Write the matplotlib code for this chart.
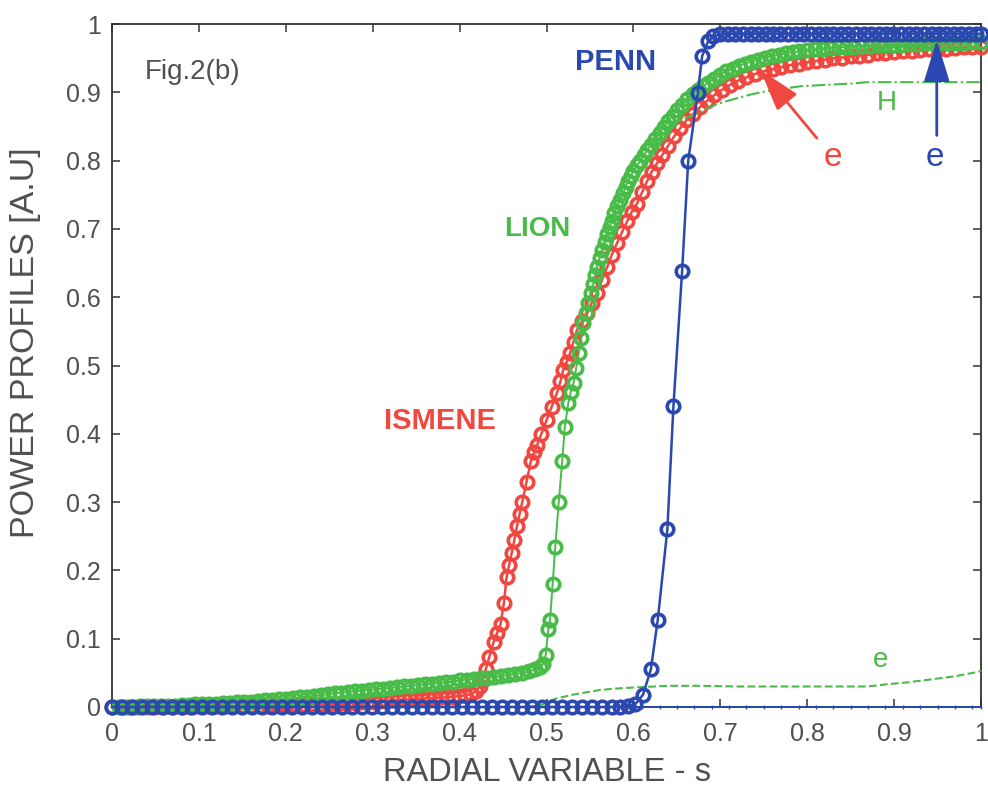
import matplotlib
matplotlib.use('Agg')
import matplotlib.pyplot as plt

plt.rcParams['font.family'] = ['Liberation Sans', 'DejaVu Sans']

# ---- data ----
# PENN (blue, circles)
penn_x = [0.000, 0.012, 0.023, 0.035, 0.046, 0.058, 0.069, 0.081, 0.092, 0.104,
          0.115, 0.127, 0.138, 0.150, 0.161, 0.173, 0.184, 0.196, 0.207, 0.219,
          0.230, 0.242, 0.253, 0.265, 0.276, 0.288, 0.299, 0.311, 0.322, 0.334,
          0.345, 0.357, 0.368, 0.380, 0.391, 0.403, 0.414, 0.426, 0.437, 0.449,
          0.460, 0.472, 0.483, 0.495, 0.506, 0.518, 0.529, 0.541, 0.552, 0.564,
          0.575, 0.585, 0.594,
          0.602, 0.611, 0.620, 0.628, 0.639, 0.646, 0.656, 0.663, 0.674, 0.679,
          0.686, 0.692, 0.700,
          0.709, 0.717, 0.726, 0.735, 0.743, 0.752, 0.761, 0.769, 0.778, 0.787,
          0.795, 0.804, 0.813, 0.821, 0.830, 0.839, 0.847, 0.856, 0.865, 0.873,
          0.882, 0.891, 0.899, 0.908, 0.917, 0.925, 0.934, 0.943, 0.951, 0.960,
          0.969, 0.977, 0.986, 0.994, 1.000]
penn_y = [0.0, 0.0, 0.0, 0.0, 0.0, 0.0, 0.0, 0.0, 0.0, 0.0,
          0.0, 0.0, 0.0, 0.0, 0.0, 0.0, 0.0, 0.0, 0.0, 0.0,
          0.0, 0.0, 0.0, 0.0, 0.0, 0.0, 0.0, 0.0, 0.0, 0.0,
          0.0, 0.0, 0.0, 0.0, 0.0, 0.0, 0.0, 0.0, 0.0, 0.0,
          0.0, 0.0, 0.0, 0.0, 0.0, 0.0, 0.0, 0.0, 0.0, 0.0,
          0.0, 0.0, 0.001,
          0.004, 0.018, 0.055, 0.128, 0.260, 0.441, 0.639, 0.800, 0.899, 0.953,
          0.975, 0.982, 0.985,
          0.986, 0.986, 0.986, 0.986, 0.986, 0.986, 0.986, 0.986, 0.986, 0.986,
          0.986, 0.986, 0.986, 0.986, 0.986, 0.986, 0.986, 0.986, 0.986, 0.986,
          0.986, 0.986, 0.986, 0.986, 0.986, 0.986, 0.986, 0.986, 0.986, 0.986,
          0.986, 0.986, 0.986, 0.986, 0.986]

# PENN electron part (blue thin line at the bottom)
penn_e_x = [0.59, 0.61, 0.63, 0.65, 0.67, 0.69, 0.71, 0.73, 0.75, 0.77, 0.79,
            0.81, 0.83, 0.85, 0.87, 0.89, 0.91, 0.93, 0.95, 0.97, 0.99, 1.00]
penn_e_y = [0.0, 0.0, 0.0, 0.0, 0.0, 0.0, 0.0, 0.0, 0.0, 0.0, 0.0,
            0.0, 0.0, 0.0, 0.0, 0.0, 0.0, 0.0, 0.0, 0.0, 0.0, 0.0]

# ISMENE (red, circles)
ismene_x = [0.000, 0.010, 0.020, 0.030, 0.040, 0.050, 0.060, 0.070, 0.080, 0.090,
            0.100, 0.110, 0.120, 0.130, 0.140, 0.150, 0.160, 0.170, 0.180, 0.190,
            0.200, 0.210, 0.220, 0.230, 0.240, 0.250, 0.260, 0.270, 0.280,
            0.287, 0.294, 0.301, 0.308, 0.315, 0.322, 0.329, 0.336, 0.343, 0.350,
            0.357, 0.364, 0.371, 0.378, 0.385, 0.392, 0.399, 0.406, 0.413, 0.419,
            0.423,
            0.426, 0.430, 0.434, 0.439, 0.443, 0.447, 0.451, 0.454, 0.457, 0.460,
            0.463, 0.466, 0.469, 0.472, 0.477, 0.482, 0.486, 0.489, 0.494, 0.500,
            0.506, 0.512, 0.516, 0.519, 0.523, 0.527, 0.531, 0.535, 0.541, 0.547,
            0.552, 0.558, 0.564, 0.570, 0.575, 0.581, 0.587, 0.593, 0.598, 0.604,
            0.610, 0.616, 0.621, 0.627, 0.633, 0.640, 0.647, 0.654, 0.661, 0.669,
            0.677, 0.685, 0.693, 0.702, 0.711, 0.720, 0.730, 0.740, 0.750, 0.760,
            0.770, 0.780, 0.790, 0.800, 0.810, 0.820, 0.830, 0.840, 0.850, 0.860,
            0.870, 0.880, 0.890, 0.900, 0.910, 0.920, 0.930, 0.940, 0.950, 0.960,
            0.970, 0.980, 0.990, 1.000]
ismene_y = [0.000, 0.000, 0.000, 0.000, 0.000, 0.000, 0.000, 0.000, 0.000, 0.000,
            0.001, 0.001, 0.001, 0.001, 0.001, 0.002, 0.002, 0.002, 0.002, 0.003,
            0.003, 0.003, 0.003, 0.004, 0.004, 0.004, 0.005, 0.005, 0.006,
            0.007, 0.007, 0.008, 0.009, 0.009, 0.010, 0.010, 0.011, 0.011, 0.012,
            0.012, 0.013, 0.013, 0.014, 0.014, 0.015, 0.016, 0.017, 0.019, 0.023,
            0.030,
            0.040, 0.055, 0.073, 0.095, 0.108, 0.121, 0.153, 0.190, 0.208, 0.226,
            0.245, 0.265, 0.283, 0.300, 0.330, 0.360, 0.373, 0.383, 0.400, 0.420,
            0.440, 0.460, 0.477, 0.493, 0.505, 0.518, 0.535, 0.552, 0.565, 0.577,
            0.592, 0.606, 0.626, 0.645, 0.662, 0.679, 0.696, 0.712, 0.725, 0.737,
            0.754, 0.771, 0.784, 0.796, 0.808, 0.822, 0.836, 0.848, 0.859, 0.869,
            0.879, 0.888, 0.896, 0.904, 0.911, 0.917, 0.922, 0.927, 0.931, 0.934,
            0.937, 0.940, 0.942, 0.944, 0.946, 0.948, 0.950, 0.951, 0.953, 0.954,
            0.955, 0.957, 0.958, 0.959, 0.960, 0.961, 0.962, 0.963, 0.964, 0.964,
            0.965, 0.966, 0.966, 0.967]

# LION (green, circles)
lion_x = [0.000, 0.008, 0.016, 0.024, 0.032, 0.040, 0.048, 0.056, 0.064, 0.072,
          0.080, 0.088, 0.096, 0.104, 0.112, 0.120, 0.128, 0.136, 0.144, 0.152,
          0.160, 0.168, 0.176, 0.184, 0.192, 0.200, 0.208, 0.216, 0.224, 0.232,
          0.240, 0.248, 0.256, 0.264, 0.272, 0.280, 0.288, 0.296, 0.304, 0.312,
          0.320, 0.328, 0.336, 0.344, 0.352, 0.360, 0.368, 0.376, 0.384, 0.392,
          0.400, 0.408, 0.416, 0.424, 0.432, 0.440, 0.448, 0.456, 0.464, 0.472,
          0.480, 0.487, 0.492, 0.496,
          0.499, 0.502, 0.504, 0.507, 0.510, 0.514, 0.518, 0.521, 0.525, 0.528,
          0.531, 0.534, 0.537, 0.540, 0.542, 0.545, 0.548, 0.551, 0.554, 0.556,
          0.558, 0.561, 0.564, 0.567, 0.570, 0.573, 0.575, 0.578, 0.581, 0.585,
          0.588, 0.591, 0.594, 0.597, 0.600, 0.604, 0.608, 0.612, 0.616, 0.620,
          0.625, 0.630, 0.635, 0.640, 0.645, 0.650, 0.656, 0.662, 0.668, 0.674,
          0.680, 0.686, 0.693, 0.700, 0.707, 0.714, 0.721, 0.728, 0.735, 0.743,
          0.751, 0.759, 0.767, 0.775, 0.783, 0.791, 0.800, 0.809, 0.818, 0.827,
          0.836, 0.845, 0.854, 0.863, 0.872, 0.881, 0.890, 0.899, 0.908, 0.917,
          0.926, 0.935, 0.944, 0.953, 0.962, 0.971, 0.980, 0.990, 1.000]
lion_y = [0.000, 0.000, 0.000, 0.000, 0.001, 0.001, 0.001, 0.002, 0.002, 0.002,
          0.003, 0.003, 0.004, 0.004, 0.005, 0.005, 0.006, 0.006, 0.007, 0.007,
          0.008, 0.009, 0.010, 0.010, 0.011, 0.012, 0.013, 0.014, 0.015, 0.016,
          0.017, 0.019, 0.020, 0.021, 0.022, 0.023, 0.024, 0.025, 0.026, 0.027,
          0.028, 0.029, 0.030, 0.031, 0.032, 0.033, 0.034, 0.035, 0.036, 0.037,
          0.039, 0.040, 0.041, 0.042, 0.043, 0.044, 0.045, 0.047, 0.048, 0.050,
          0.052, 0.055, 0.058, 0.063,
          0.076, 0.114, 0.127, 0.180, 0.234, 0.300, 0.360, 0.410, 0.445, 0.462,
          0.474, 0.496, 0.518, 0.540, 0.562, 0.577, 0.591, 0.606, 0.620, 0.632,
          0.645, 0.657, 0.669, 0.681, 0.693, 0.703, 0.712, 0.723, 0.733, 0.743,
          0.752, 0.762, 0.771, 0.778, 0.785, 0.793, 0.800, 0.808, 0.816, 0.823,
          0.832, 0.840, 0.849, 0.858, 0.866, 0.874, 0.882, 0.890, 0.897, 0.903,
          0.909, 0.914, 0.920, 0.926, 0.931, 0.935, 0.939, 0.942, 0.945, 0.948,
          0.951, 0.953, 0.955, 0.957, 0.959, 0.960, 0.962, 0.963, 0.964, 0.965,
          0.966, 0.967, 0.967, 0.968, 0.968, 0.969, 0.969, 0.970, 0.970, 0.971,
          0.971, 0.972, 0.972, 0.972, 0.973, 0.973, 0.973, 0.974, 0.974]

# LION ion heating H (green dash-dot)
lion_h_x = [0.620, 0.640, 0.660, 0.677, 0.696, 0.715, 0.735, 0.754, 0.775, 0.792,
            0.820, 0.850, 0.869, 0.900, 0.930, 0.960, 1.000]
lion_h_y = [0.820, 0.845, 0.862, 0.872, 0.883, 0.890, 0.897, 0.902, 0.906, 0.909,
            0.911, 0.913, 0.915, 0.915, 0.915, 0.915, 0.915]

# LION electron heating e (green dashed)
lion_e_x = [0.480, 0.496, 0.510, 0.530, 0.562, 0.580, 0.607, 0.640, 0.677, 0.720,
            0.770, 0.820, 0.869, 0.890, 0.915, 0.940, 0.970, 0.995, 1.000]
lion_e_y = [0.000, 0.004, 0.012, 0.018, 0.025, 0.027, 0.029, 0.031, 0.031, 0.030,
            0.030, 0.030, 0.030, 0.033, 0.036, 0.040, 0.045, 0.051, 0.053]

tick_vals = [0, 0.1, 0.2, 0.3, 0.4, 0.5, 0.6, 0.7, 0.8, 0.9, 1]
tick_text = ['0', '0.1', '0.2', '0.3', '0.4', '0.5', '0.6', '0.7', '0.8', '0.9', '1']

red = '#f04840'
green = '#48bb48'
blue = '#2a48b0'
grey = '#505050'

fig = plt.figure(figsize=(9.88, 7.94), dpi=100)
ax = fig.add_axes([0.1134, 0.1096, 0.8796, 0.860])

mk = dict(marker='o', ms=9, mew=2.6, mfc='none', clip_on=False)
ax.plot(ismene_x, ismene_y, '-', color=red, lw=1.8, mec=red, zorder=3, **mk)
ax.plot(lion_x, lion_y, '-', color=green, lw=1.4, mec=green, zorder=4, **mk)
ax.plot(lion_h_x, lion_h_y, '-.', color=green, lw=1.5, zorder=5)
ax.plot(lion_e_x, lion_e_y, '--', color=green, lw=1.5, zorder=5, clip_on=False)
ax.plot(penn_e_x, penn_e_y, '-', color=blue, lw=1.4, marker='|', ms=3,
        zorder=5, clip_on=False)
ax.plot(penn_x, penn_y, '-', color=blue, lw=1.8, mec=blue, zorder=6, **mk)

ax.set_xlim(0, 1)
ax.set_ylim(0, 1)
ax.set_xticks(tick_vals)
ax.set_xticklabels(tick_text)
ax.set_yticks(tick_vals)
ax.set_yticklabels(tick_text)
ax.tick_params(direction='in', length=6, width=1.1, top=True, right=True,
               labelsize=18, labelcolor=grey, color='#333333')
ax.tick_params(axis='x', pad=11)
ax.tick_params(axis='y', pad=8)
for sp in ax.spines.values():
    sp.set_linewidth(1.3)
    sp.set_color('#333333')

ax.set_xlabel('RADIAL VARIABLE - s', fontsize=23.5, color=grey, labelpad=8)
ax.set_ylabel('POWER PROFILES [A.U]', fontsize=24.5, color=grey)
ax.yaxis.set_label_coords(-0.082, 0.534)

# labels in the plot
ax.text(0.038, 0.93, 'Fig.2(b)', fontsize=20, color=grey, ha='left', va='center')
ax.text(0.579, 0.944, 'PENN', fontsize=21, color=blue, ha='center', va='center',
        fontweight='bold')
ax.text(0.489, 0.70, 'LION', fontsize=20, color=green, ha='center', va='center',
        fontweight='bold')
ax.text(0.377, 0.419, 'ISMENE', fontsize=21, color=red, ha='center', va='center',
        fontweight='bold')
ax.text(0.892, 0.884, 'H', fontsize=20, color=green, ha='center', va='center')
ax.text(0.83, 0.805, 'e', fontsize=24, color=red, ha='center', va='center')
ax.text(0.947, 0.805, 'e', fontsize=24, color=blue, ha='center', va='center')
ax.text(0.884, 0.069, 'e', fontsize=20, color=green, ha='center', va='center')

arr = '-|>,head_length=1.3,head_width=0.4'
ax.annotate('', xy=(0.746, 0.933), xytext=(0.811, 0.833),
            arrowprops=dict(arrowstyle=arr, color=red, lw=2.0,
                            mutation_scale=20, shrinkA=0, shrinkB=0), zorder=7)
ax.annotate('', xy=(0.949, 0.977), xytext=(0.949, 0.837),
            arrowprops=dict(arrowstyle=arr, color=blue, lw=2.0,
                            mutation_scale=20, shrinkA=0, shrinkB=0), zorder=7)

fig.savefig('out.png', dpi=100)
